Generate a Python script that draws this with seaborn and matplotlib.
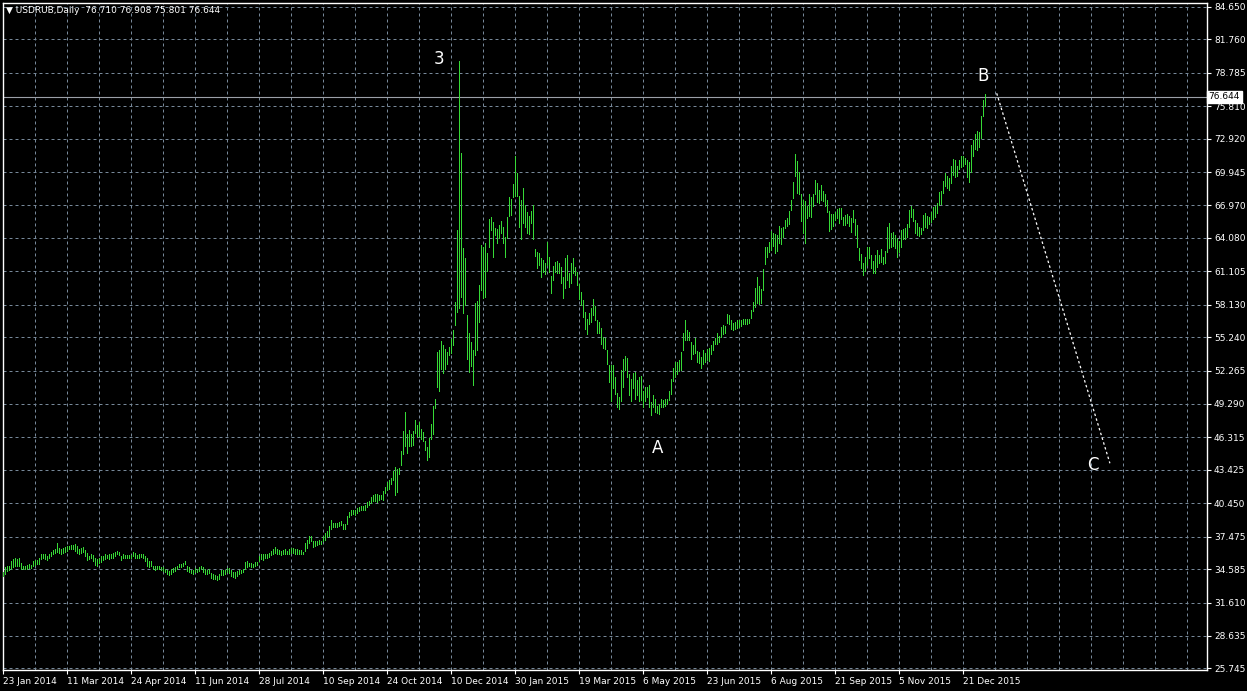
import matplotlib
matplotlib.use("Agg")
import matplotlib.pyplot as plt
import seaborn as sns
import pandas as pd

# daily USDRUB bars (high / low), one value per bar
highs = [
    34.29, 34.73, 34.88, 34.88, 35.32, 35.46, 35.55, 35.46, 35.61, 35.17,
    34.88, 34.88, 34.94, 35.02, 34.94, 35.32, 35.37, 35.37, 35.55, 35.96,
    35.96, 35.90, 35.75, 35.90, 36.13, 36.25, 36.34, 36.92, 36.48, 36.34,
    36.48, 36.54, 36.63, 36.63, 36.72, 36.72, 36.78, 36.63, 36.34, 36.48,
    36.57, 36.25, 36.05, 35.75, 35.90, 35.81, 35.61, 35.46, 35.61, 35.75,
    35.75, 35.90, 35.84, 35.90, 35.90, 36.05, 36.13, 36.19, 36.13, 35.75,
    35.90, 35.81, 35.81, 35.81, 35.81, 36.13, 36.05, 35.81, 35.90, 35.96,
    35.96, 35.75, 35.61, 35.32, 35.32, 34.88, 34.88, 34.88, 34.88, 34.79,
    34.73, 34.59, 34.50, 34.44, 34.59, 34.64, 34.73, 34.88, 35.02, 35.08,
    35.17, 35.32, 34.88, 34.73, 34.50, 34.50, 34.64, 34.59, 34.73, 34.88,
    34.73, 34.59, 34.50, 34.59, 34.21, 34.15, 34.06, 34.00, 34.15, 34.50,
    34.50, 34.50, 34.64, 34.64, 34.50, 34.29, 34.29, 34.44, 34.50, 34.50,
    34.59, 35.26, 35.32, 35.17, 35.17, 35.02, 35.26, 35.26, 35.75, 35.90,
    35.90, 35.90, 35.96, 36.05, 36.19, 36.34, 36.54, 36.34, 36.25, 36.19,
    36.25, 36.34, 36.19, 36.34, 36.43, 36.43, 36.34, 36.34, 36.25, 36.25,
    36.13, 36.92, 37.21, 37.51, 37.51, 37.07, 37.07, 37.13, 37.21, 37.13,
    37.51, 37.80, 38.00, 38.38,
    38.93, 38.69, 38.69, 38.69, 38.78, 38.87, 38.63, 38.63, 39.28, 39.67,
    39.88, 39.88, 39.82, 40.05, 40.11, 40.17, 40.17, 40.26, 40.56, 40.64,
    41.00, 41.21, 41.24, 41.24, 41.15, 41.15, 41.53, 41.89, 42.33, 42.48,
    42.72, 43.31, 43.72, 43.52, 43.60, 45.08, 46.92, 48.61, 46.62, 46.98,
    46.62, 46.86, 47.87, 47.45, 47.66, 47.07, 46.77, 46.03, 45.50, 46.27,
    47.51, 49.14, 49.73,
    53.93, 54.14, 54.89, 54.53, 54.23, 53.93, 54.38, 55.12, 55.87, 58.40,
    64.74, 79.83, 71.64, 63.16, 62.27, 57.21, 55.57, 54.83, 54.08, 58.25,
    58.49, 59.89, 63.46, 63.25, 63.61, 62.77, 65.78, 65.93, 65.54, 64.95,
    64.86, 65.24, 65.60, 65.03, 64.20, 65.93, 67.71, 67.53, 68.90, 71.34,
    69.86, 67.83, 67.48, 68.52, 67.03, 66.43, 65.99, 66.52, 67.03,
    63.07, 62.86, 62.71, 62.26, 62.11, 61.81, 63.75, 62.41, 60.68, 61.58,
    61.96, 62.05, 61.81, 61.52, 60.62, 62.26, 62.56, 60.92, 61.81, 62.26,
    61.52, 61.07, 59.97, 59.28, 58.54, 57.49, 56.90, 57.40, 57.88, 58.68,
    58.00, 56.81, 56.60, 56.09, 55.26, 55.20, 54.13, 52.72, 52.72, 52.72,
    51.68, 50.25, 49.89, 52.28, 53.32, 53.53, 53.41, 51.92, 51.53, 52.04,
    52.13, 51.44, 51.68, 51.74, 50.43, 50.79, 50.79, 50.94, 49.45, 50.13,
    49.74, 49.15, 49.30, 49.74, 49.66, 49.74, 49.74, 50.49, 51.53, 52.52,
    53.02, 53.02, 53.23, 53.92, 55.62, 56.75, 55.91, 55.70, 54.81, 54.51,
    55.20, 54.01, 53.92, 53.47, 54.13, 53.83, 54.21, 54.30, 54.51, 54.90,
    55.20, 55.62, 55.32,
    56.15, 56.30, 56.21, 57.28, 57.19, 56.75, 56.51, 56.60, 56.81, 56.75,
    56.75, 56.84, 56.84, 56.84, 56.90, 57.70, 58.39, 59.58, 60.56, 59.79,
    59.49, 61.28, 63.24, 63.24, 63.75, 64.73, 64.56, 64.44, 64.35, 65.15,
    64.94, 65.03, 65.69, 65.84, 66.52, 67.48, 69.09, 71.59, 70.90, 69.92,
    68.01, 67.42, 67.33, 66.88, 68.01, 67.71, 68.01, 69.26, 68.97, 68.37,
    68.82, 68.22, 68.01, 67.48, 66.52, 66.22, 66.22, 66.43, 66.64, 66.76,
    66.76, 65.93, 66.14, 66.22, 66.05, 65.84, 66.58, 65.75, 65.24, 63.16,
    62.65, 61.81, 62.35, 63.24, 63.24, 62.56, 62.05, 62.56, 63.01, 62.56,
    63.07, 62.41, 62.95, 65.03, 65.39, 64.56, 64.65, 64.35, 64.05, 63.84,
    64.79, 64.85, 64.94, 65.33, 66.58, 66.94, 66.64, 65.69, 65.39, 65.03,
    64.94, 66.14, 66.34, 66.05, 65.93, 66.43, 66.82, 66.88, 67.18, 68.13,
    68.30, 69.19, 69.85, 69.61, 69.40, 70.44, 71.10, 70.98, 70.50, 71.04,
    71.34, 71.34, 71.19, 71.04, 70.80, 72.38, 72.77, 73.36, 73.57, 73.48,
    74.97, 76.40, 76.91,
]
lows = [
    34.00, 34.15, 34.44, 34.50, 34.59, 34.73, 34.88, 34.88, 34.88, 34.59,
    34.59, 34.59, 34.59, 34.64, 34.64, 34.88, 34.94, 35.02, 35.08, 35.46,
    35.55, 35.46, 35.37, 35.55, 35.75, 35.90, 36.05, 36.13, 36.05, 35.90,
    36.05, 36.13, 36.19, 36.34, 36.34, 36.34, 36.19, 36.05, 35.90, 36.05,
    36.13, 35.75, 35.37, 35.46, 35.55, 35.32, 34.97, 34.88, 35.17, 35.26,
    35.37, 35.46, 35.55, 35.46, 35.61, 35.61, 35.75, 35.90, 35.81, 35.37,
    35.55, 35.55, 35.61, 35.61, 35.61, 35.75, 35.61, 35.55, 35.61, 35.67,
    35.61, 35.32, 34.88, 34.79, 34.88, 34.59, 34.50, 34.59, 34.59, 34.50,
    34.44, 34.29, 34.15, 34.06, 34.15, 34.29, 34.44, 34.59, 34.73, 34.79,
    34.88, 35.02, 34.44, 34.29, 34.21, 34.15, 34.29, 34.29, 34.44, 34.59,
    34.29, 34.15, 34.15, 34.21, 33.80, 33.71, 33.71, 33.62, 33.71, 34.09,
    34.09, 34.15, 34.29, 34.21, 34.00, 33.86, 33.80, 34.00, 34.15, 34.21,
    34.29, 34.59, 34.79, 34.88, 34.73, 34.73, 34.88, 34.94, 35.32, 35.46,
    35.37, 35.55, 35.61, 35.67, 35.84, 35.96, 36.05, 35.90, 35.90, 35.84,
    35.96, 35.90, 35.90, 35.96, 36.05, 36.05, 35.96, 35.96, 35.90, 35.90,
    35.90, 36.19, 36.48, 36.92, 37.07, 36.54, 36.63, 36.72, 36.78, 36.83,
    37.07, 37.21, 37.42, 37.51,
    38.19, 38.34, 38.34, 38.34, 38.40, 38.48, 38.19, 38.13, 38.63, 39.22,
    39.37, 39.46, 39.37, 39.58, 39.76, 39.82, 39.88, 39.88, 40.11, 40.26,
    40.47, 40.64, 40.64, 40.56, 40.76, 40.85, 40.76, 41.36, 41.59, 41.74,
    42.18, 42.54, 41.15, 41.44, 43.07, 43.90, 44.85, 45.59, 44.91, 45.59,
    45.59, 45.68, 46.68, 46.39, 46.48, 46.18, 46.03, 45.20, 44.26, 44.55,
    46.18, 46.62, 48.93,
    50.81, 50.45, 52.45, 52.06, 52.45, 52.89, 53.64, 53.85, 54.53, 56.32,
    57.51, 57.80, 58.85, 57.42, 58.10, 53.34, 52.15, 52.65, 50.96, 53.64,
    54.08, 56.61, 59.44, 58.70, 58.79, 61.17, 63.31, 64.80, 62.42, 64.35,
    63.61, 64.05, 64.50, 63.61, 62.42, 64.05, 65.99, 66.14, 67.68, 67.77,
    67.77, 65.09, 63.96, 65.39, 65.09, 64.56, 64.44, 65.39, 63.96,
    62.47, 61.37, 61.66, 60.62, 61.07, 60.86, 61.66, 61.07, 59.19, 60.32,
    61.07, 60.92, 60.98, 60.03, 58.77, 59.58, 60.32, 59.73, 60.09, 60.92,
    60.77, 59.88, 58.68, 58.09, 57.05, 56.00, 55.56, 56.45, 56.60, 57.19,
    56.81, 55.62, 55.62, 54.60, 54.30, 54.21, 52.87, 51.23, 49.54, 50.73,
    50.19, 49.00, 48.85, 49.54, 50.79, 52.28, 51.68, 50.13, 49.60, 50.73,
    49.74, 50.13, 49.60, 49.66, 49.00, 49.54, 49.89, 49.06, 48.34, 49.00,
    48.55, 48.46, 48.40, 49.00, 49.00, 49.15, 49.30, 49.66, 50.19, 51.32,
    51.68, 51.98, 52.22, 52.28, 54.13, 54.96, 54.96, 54.96, 53.32, 53.77,
    53.83, 53.02, 52.93, 52.52, 52.87, 53.02, 53.17, 53.11, 53.77, 54.13,
    54.60, 54.60, 54.81,
    55.26, 55.56, 55.62, 56.51, 56.39, 56.00, 55.91, 56.00, 56.09, 56.15,
    56.21, 56.39, 56.39, 56.45, 56.51, 56.99, 57.58, 57.94, 58.24, 58.15,
    58.30, 59.43, 61.75, 62.35, 62.86, 63.01, 63.36, 62.77, 62.95, 63.60,
    63.54, 64.20, 64.94, 65.15, 65.33, 66.58, 67.62, 69.62, 68.07, 68.01,
    65.63, 64.56, 63.66, 65.84, 66.05, 65.93, 66.88, 68.01, 67.24, 67.18,
    67.42, 67.33, 66.94, 66.43, 64.73, 64.85, 65.15, 65.69, 65.84, 65.39,
    65.75, 65.24, 65.24, 65.39, 65.15, 64.65, 65.54, 64.35, 63.30, 62.11,
    61.37, 60.77, 61.16, 61.66, 62.26, 61.37, 60.98, 60.98, 61.52, 61.87,
    61.96, 61.75, 61.81, 62.86, 63.16, 63.24, 63.36, 63.16, 62.41, 62.86,
    63.24, 63.96, 63.96, 64.14, 65.09, 65.93, 65.63, 64.56, 64.35, 64.26,
    64.44, 64.79, 65.03, 64.94, 65.33, 65.54, 65.75, 65.93, 66.34, 67.03,
    67.11, 68.12, 68.72, 68.51, 68.36, 68.95, 69.70, 69.49, 69.61, 70.21,
    70.38, 70.50, 70.68, 69.49, 69.10, 69.96, 71.40, 72.01, 71.93, 72.17,
    72.98, 74.91, 75.80,
]

date_labels = ['23 Jan 2014', '11 Mar 2014', '24 Apr 2014', '11 Jun 2014',
               '28 Jul 2014', '10 Sep 2014', '24 Oct 2014', '10 Dec 2014',
               '30 Jan 2015', '19 Mar 2015', '6 May 2015', '23 Jun 2015',
               '6 Aug 2015', '21 Sep 2015', '5 Nov 2015', '21 Dec 2015']
date_tick_bars = [0, 32, 64, 96, 128, 160, 192, 224, 256, 288, 320, 352, 384, 416, 448, 480]

price_ticks = [84.650, 81.760, 78.785, 75.810, 72.920, 69.945, 66.970, 64.080,
               61.105, 58.130, 55.240, 52.265, 49.290, 46.315, 43.425, 40.450,
               37.475, 34.585, 31.610, 28.635, 25.745]

header = "\u25bc USDRUB,Daily  76.710 76.908 75.801 76.644"
last_price = 76.644

# wave marks drawn on the chart
wave_labels = ['3', 'A', 'B', 'C']
wave_bars = [218, 327, 490, 545]
wave_prices = [80.0, 45.4, 78.5, 43.9]

# dotted B -> C projection
projection_bars = [496.7, 553.3]
projection_prices = [76.96, 44.01]

n = min(len(highs), len(lows))
df = pd.DataFrame({'bar': range(n), 'high': highs[:n], 'low': lows[:n]})

sns.set_theme(style="dark", rc={"axes.facecolor": "black", "figure.facecolor": "black"})
plt.rcParams['font.family'] = ['DejaVu Sans']

bar_green = '#36D936'
grid_col = '#778899'

fig = plt.figure(figsize=(12.47, 6.91), dpi=100)
ax = fig.add_axes([3 / 1247, 21 / 691, 1204 / 1247, 667 / 691])
ax.set_facecolor('black')

ax.vlines(df['bar'], df['low'], df['high'], colors=bar_green, linewidth=0.5,
          antialiased=False, zorder=3)

sns.lineplot(x=projection_bars, y=projection_prices, ax=ax, color='white',
             linewidth=0.9, linestyle=(0, (2, 2)), zorder=4)

ax.axhline(last_price, color='#9CA0A8', linewidth=0.8, zorder=2)

ax.set_xlim(-0.15, 601.85)
ax.set_ylim(25.60, 85.0)

# axes / ticks
ax.set_xticks(date_tick_bars)
ax.set_xticklabels(date_labels)
minor = [b for b in range(0, 600, 16) if b not in date_tick_bars]
ax.set_xticks(minor, minor=True)
ax.set_yticks(price_ticks)
ax.set_yticklabels([f"{p:.3f}" for p in price_ticks])
ax.yaxis.tick_right()

ax.tick_params(axis='x', which='major', colors='white', length=3, width=0.8,
               pad=2, labelsize=6.5, direction='out', bottom=True)
ax.tick_params(axis='x', which='minor', length=0)
ax.tick_params(axis='y', colors='white', length=3, width=0.8, pad=2,
               labelsize=6.5, direction='out', right=True, left=False)
for lab in ax.get_xticklabels():
    lab.set_ha('left')

ax.grid(True, which='both', axis='x', color=grid_col, linestyle=(0, (3, 3)),
        linewidth=0.72)
ax.grid(True, which='major', axis='y', color=grid_col, linestyle=(0, (3, 3)),
        linewidth=0.72)
ax.set_axisbelow(True)

for side in ['left', 'right', 'top', 'bottom']:
    ax.spines[side].set_visible(True)
    ax.spines[side].set_color('white')
    ax.spines[side].set_linewidth(1.0)

ax.set_xlabel('')
ax.set_ylabel('')

# wave labels
for lab, b, p in zip(wave_labels, wave_bars, wave_prices):
    ax.text(b, p, lab, color='white', fontsize=12, ha='center', va='center', zorder=5)

# last price box on the price scale
ax.text(1.0014, last_price, f"{last_price:.3f}", transform=ax.get_yaxis_transform(),
        ha='left', va='center', fontsize=6.5, color='black', clip_on=False, zorder=6,
        bbox=dict(boxstyle='square,pad=0.2', facecolor='white', edgecolor='white'))

fig.text(6 / 1247, 1 - 10.5 / 691, header, color='white', fontsize=6.5,
         ha='left', va='center')

fig.savefig('out.png', dpi=100, facecolor='black')
